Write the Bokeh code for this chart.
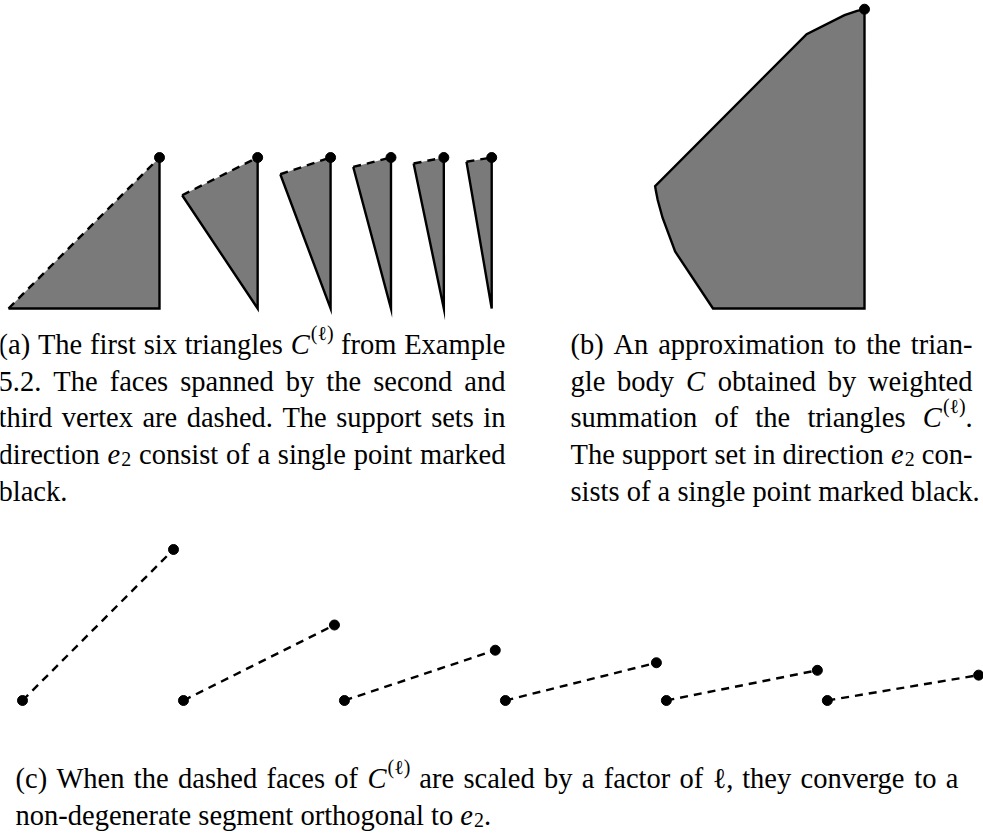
import re
from bokeh.plotting import figure
from bokeh.models import Range1d, ColumnDataSource
from bokeh.core.properties import value
from bokeh.embed import file_html
from bokeh.resources import INLINE

# ---------------- data ----------------
ell = [1, 2, 3, 4, 5, 6]
# second vertex of C^(l), measured from the third (top) vertex: run to the left, drop down
face_dx = [1.0, 0.5, 0.333, 0.25, 0.2, 0.167]
face_dy = [1.0, 0.25, 0.111, 0.0625, 0.04, 0.028]
# first vertex sits straight below the third one
tri_height = [1.0, 1.0, 1.0, 1.0, 1.0, 1.0]

# approximation of the triangle body C (counter-clockwise, bottom-right corner first)
body_x = [0.0, 0.0, -0.005, -0.018, -0.049, -0.132, -0.382, -1.382,
          -1.377, -1.365, -1.333, -1.25, -1.0]
body_y = [0.0, 1.969, 1.968, 1.965, 1.958, 1.930, 1.805, 0.805,
          0.774, 0.714, 0.597, 0.375, 0.0]

caption_a = [
    ("(a) The first six triangles $C^{(ℓ)}$ from Example", True),
    ("5.2. The faces spanned by the second and", True),
    ("third vertex are dashed. The support sets in", True),
    ("direction $e_{2}$ consist of a single point marked", True),
    ("black.", False),
]
caption_b = [
    ("(b) An approximation to the trian-", True),
    ("gle body $C$ obtained by weighted", True),
    ("summation of the triangles $C^{(ℓ)}$.", True),
    ("The support set in direction $e_{2}$ con-", True),
    ("sists of a single point marked black.", False),
]
caption_c = [
    ("(c) When the dashed faces of $C^{(ℓ)}$ are scaled by a factor of ℓ, they converge to a", True),
    ("non-degenerate segment orthogonal to $e_{2}$.", False),
]

# ---------------- styling / layout ----------------
W, H = 983, 833
FONT = "Liberation Serif"
FS = 28.5
LEAD = 36.7
GRAY = "#7a7a7a"
LW = 2.4
DASH = "8 6"
DOT = 10

p = figure(width=W, height=H, x_range=Range1d(0, W), y_range=Range1d(H, 0),
           output_backend="svg", toolbar_location=None, min_border=0,
           x_axis_location=None, y_axis_location=None, outline_line_color=None)
p.grid.visible = False


def rng(x0, y0, ux, uy):
    return (Range1d((0 - x0) / ux, (W - x0) / ux), Range1d((y0 - H) / uy, y0 / uy))


xa, ya = rng(8, 308, 151, 151)
xb, yb = rng(864, 308, 151.5, 152)
xc, yc = rng(22, 700, 151, 151)
p.extra_x_ranges = {"a": xa, "b": xb, "c": xc}
p.extra_y_ranges = {"a": ya, "b": yb, "c": yc}

# ---------------- panel (a): the triangles ----------------
GAP_A = 0.15
xv = []
for k, dx in enumerate(face_dx):
    xv.append(dx if k == 0 else xv[-1] + GAP_A + dx)

tri_xs, tri_ys, solid_xs, solid_ys, dash_xs, dash_ys = [], [], [], [], [], []
for k in range(len(ell)):
    lx, ly = xv[k] - face_dx[k], tri_height[k] - face_dy[k]
    tri_xs.append([xv[k], xv[k], lx])
    tri_ys.append([0, tri_height[k], ly])
    solid_xs.append([lx, xv[k], xv[k]])
    solid_ys.append([ly, 0, tri_height[k]])
    dash_xs.append([lx, xv[k]])
    dash_ys.append([ly, tri_height[k]])

p.patches(tri_xs, tri_ys, fill_color=GRAY, line_color=None, x_range_name="a", y_range_name="a")
p.multi_line(solid_xs, solid_ys, line_color="black", line_width=LW, line_join="miter",
             x_range_name="a", y_range_name="a")
p.multi_line(dash_xs, dash_ys, line_color="black", line_width=LW, line_dash=DASH,
             x_range_name="a", y_range_name="a")
p.scatter(xv, tri_height, size=DOT, color="black", x_range_name="a", y_range_name="a")

# ---------------- panel (b): the body ----------------
p.patch(body_x, body_y, fill_color=GRAY, line_color="black", line_width=LW, line_join="miter",
        x_range_name="b", y_range_name="b")
p.scatter([body_x[1]], [body_y[1]], size=DOT, color="black", x_range_name="b", y_range_name="b")

# ---------------- panel (c): dashed faces scaled by l ----------------
GAP_C = 0.066
seg_xs, seg_ys, px, py = [], [], [], []
for k in range(len(ell)):
    x0 = k * (1 + GAP_C)
    x1 = x0 + ell[k] * face_dx[k]
    y1 = ell[k] * face_dy[k]
    seg_xs.append([x0, x1])
    seg_ys.append([0, y1])
    px += [x0, x1]
    py += [0, y1]
p.multi_line(seg_xs, seg_ys, line_color="black", line_width=LW, line_dash=DASH,
             x_range_name="c", y_range_name="c")
p.scatter(px, py, size=DOT, color="black", x_range_name="c", y_range_name="c")

# ---------------- captions (simple justified typesetting) ----------------
ADV = {' ': 250, '(': 333, ')': 333, '.': 250, ',': 250, '-': 333, 'ℓ': 460,
       'a': 444, 'b': 500, 'c': 444, 'd': 500, 'e': 444, 'f': 333, 'g': 500, 'h': 500,
       'i': 278, 'j': 278, 'k': 500, 'l': 278, 'm': 778, 'n': 500, 'o': 500, 'p': 500,
       'q': 500, 'r': 333, 's': 389, 't': 278, 'u': 500, 'v': 500, 'w': 722, 'x': 500,
       'y': 500, 'z': 444, 'A': 722, 'C': 667, 'E': 611, 'T': 611, 'W': 944}
STY = {"rm": (1.0, 0.0, "normal"), "it": (1.0, 0.0, "italic"),
       "sup": (0.7, -0.42, "normal"), "sub": (0.7, 0.16, "normal")}


def width(text, size):
    return sum(ADV.get(ch, 500) for ch in text) / 1000.0 * size


def parse_word(w):
    runs = []
    for part in re.split(r'(\$[^$]*\$)', w):
        if not part:
            continue
        if part.startswith('$'):
            m = re.match(r'\$(.)(?:([\^_])\{(.*)\})?\$', part)
            runs.append((m.group(1), "it"))
            if m.group(2):
                runs.append((m.group(3), "sup" if m.group(2) == "^" else "sub"))
        else:
            runs.append((part, "rm"))
    return runs


def run_w(run):
    txt, st = run
    w = width(txt, FS * STY[st][0])
    if st == "it":
        w += 0.04 * FS
    return w


out = {k: {"x": [], "y": [], "text": []} for k in STY}


def typeset(lines, left, tw, base0):
    for i, (line, just) in enumerate(lines):
        words = [parse_word(w) for w in line.split(" ")]
        wws = [sum(run_w(r) for r in w) for w in words]
        gap = 0.25 * FS
        if just and len(words) > 1:
            gap = (tw - sum(wws)) / (len(words) - 1)
        x = left
        y = base0 + i * LEAD
        for w, ww in zip(words, wws):
            for r in w:
                txt, st = r
                out[st]["x"].append(x)
                out[st]["y"].append(y + STY[st][1] * FS)
                out[st]["text"].append(txt)
                x += run_w(r)
            x += gap


typeset(caption_a, -2, 507, 344)
typeset(caption_b, 570, 402, 344)
typeset(caption_c, 15, 943, 778)

for st, d in out.items():
    if not d["x"]:
        continue
    scale, _, style = STY[st]
    p.text(x="x", y="y", text="text", source=ColumnDataSource(d),
           text_font=value(FONT), text_font_size=value(f"{FS * scale:.1f}px"),
           text_font_style=style, text_color="black",
           text_baseline="alphabetic", text_align="left")

open("out.html", "w").write(file_html(p, INLINE))
